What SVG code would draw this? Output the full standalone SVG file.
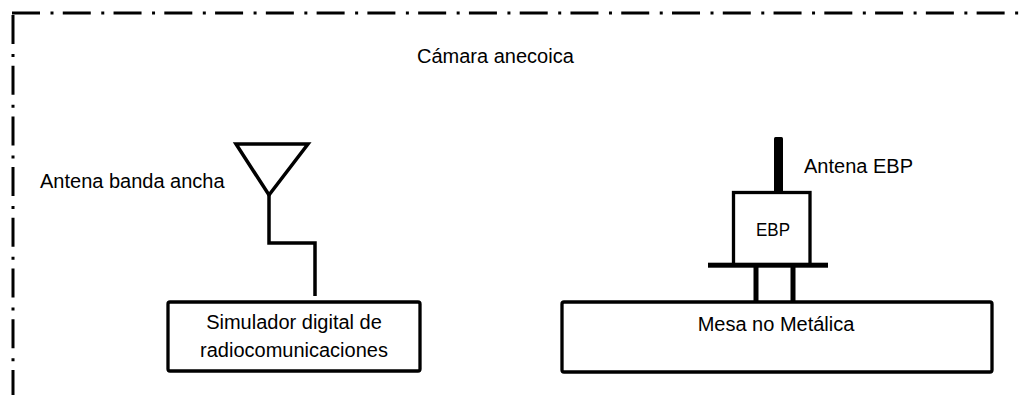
<svg xmlns="http://www.w3.org/2000/svg" width="1023" height="395" viewBox="0 0 1023 395">
<style>
.lbl{font-family:"Liberation Sans",Arial,sans-serif;font-size:20px;fill:#000}
.ebp{font-family:"Liberation Sans",Arial,sans-serif;font-size:18px;fill:#000}
.box{fill:none;stroke:#000;stroke-width:3.3}
.ln{fill:none;stroke:#000;stroke-width:3.5}
.border{fill:none;stroke:#000;stroke-width:3}
</style>
<rect width="1023" height="395" fill="#fff"/>
<g id="camara">
<path class="border" d="M12 13 H1023" stroke-dasharray="28 10.5 3 9.27"/>
<path class="border" d="M13 15 V395" stroke-dasharray="29 10 3 8.7"/>
<text class="lbl" x="417" y="63">Cámara anecoica</text>
</g>
<g id="antena-banda-ancha">
<polygon class="ln" points="236,144 308,144 269,195" stroke-linejoin="miter"/>
<text class="lbl" x="40" y="188">Antena banda ancha</text>
</g>
<g id="simulador">
<rect class="box" x="168" y="302" width="252" height="69" rx="2"/>
<text class="lbl" x="294" y="329" text-anchor="middle">Simulador digital de</text>
<text class="lbl" x="294" y="357" text-anchor="middle">radiocomunicaciones</text>
</g>
<g id="antena-ebp">
<rect x="774" y="137" width="9" height="57" rx="1.5" fill="#000"/>
<text class="lbl" x="804" y="173">Antena EBP</text>
</g>
<g id="ebp">
<rect class="box" x="733.5" y="192.5" width="76.5" height="72.5"/>
<rect x="708" y="262.7" width="120" height="5" fill="#000"/>
<rect x="753.5" y="265" width="5" height="36" fill="#000"/>
<rect x="790.5" y="265" width="5" height="36" fill="#000"/>
<text class="ebp" x="756" y="236" textLength="34" lengthAdjust="spacingAndGlyphs">EBP</text>
</g>
<g id="mesa">
<rect class="box" x="562" y="302" width="430" height="70" rx="2"/>
<text class="lbl" x="776" y="331" text-anchor="middle">Mesa no Metálica</text>
</g>
<g id="connectors">
<path class="ln" d="M269 195 V243 H315 V296"/>
</g>
</svg>
